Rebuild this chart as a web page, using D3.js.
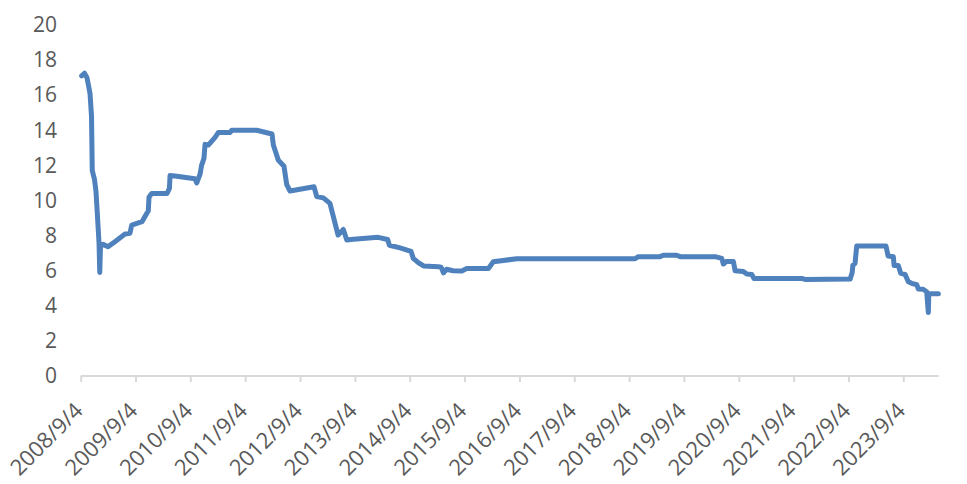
<!DOCTYPE html>
<html>
<head>
<meta charset="utf-8">
<script src="https://cdn.jsdelivr.net/npm/d3@7"></script>
<style>
  html, body { margin: 0; padding: 0; background: #ffffff; }
  svg { display: block; }
</style>
</head>
<body>
<svg id="chart" width="967" height="484"></svg>
<script>
// ---- data ----
const dates = [
  "2008-09-10","2008-09-29","2008-10-16","2008-11-05","2008-11-15","2008-11-20","2008-12-05","2008-12-15",
  "2009-01-04","2009-01-09","2009-01-14","2009-01-31","2009-03-05","2009-04-20","2009-06-26","2009-07-29",
  "2009-08-10","2009-10-17","2009-11-10","2009-11-28","2009-12-03","2009-12-21","2010-04-02","2010-04-18",
  "2010-04-22","2010-05-25","2010-10-05","2010-10-17","2010-11-08","2010-11-18","2010-12-04","2010-12-11",
  "2011-01-02","2011-02-16","2011-03-10","2011-05-27","2011-06-07","2011-11-20","2012-03-01","2012-03-10",
  "2012-04-12","2012-05-20","2012-06-07","2012-06-29","2012-12-06","2012-12-24","2013-02-06","2013-03-22",
  "2013-05-15","2013-06-19","2013-07-12","2013-08-25","2014-02-06","2014-04-10","2014-04-22","2014-07-02",
  "2014-09-13","2014-09-28","2014-10-31","2014-12-05","2015-03-14","2015-04-01","2015-04-17","2015-05-07",
  "2015-06-20","2015-08-17","2015-09-19","2016-02-10","2016-03-14","2016-08-17","2018-10-14","2018-11-05",
  "2019-03-29","2019-04-20","2019-07-18","2019-08-10","2020-03-30","2020-05-13","2020-05-24","2020-06-11",
  "2020-07-30","2020-08-10","2020-10-04","2020-10-27","2020-11-29","2020-12-14","2021-10-28","2021-11-19",
  "2022-09-15","2022-09-29","2022-10-03","2022-10-18","2022-10-29","2023-05-12","2023-05-26","2023-06-30",
  "2023-07-05","2023-08-02","2023-08-18","2023-09-16","2023-10-08","2023-10-30","2023-12-03","2023-12-13",
  "2024-01-14","2024-02-07","2024-02-18","2024-02-21","2024-04-25"
];
const values = [
  17.1, 17.25, 17.0, 16.1, 14.8, 11.7, 11.2, 10.5,
  7.6, 5.9, 7.45, 7.5, 7.37, 7.65, 8.09, 8.13,
  8.6, 8.79, 9.15, 9.4, 10.2, 10.4, 10.4, 10.69,
  11.42, 11.4, 11.24, 11.0, 11.5, 12.0, 12.4, 13.2,
  13.16, 13.6, 13.88, 13.88, 14.0, 14.0, 13.79, 13.16,
  12.3, 11.95, 10.9, 10.54, 10.78, 10.22, 10.15, 9.84,
  8.03, 8.35, 7.75, 7.79, 7.9, 7.78, 7.45, 7.3,
  7.1, 6.7, 6.46, 6.27, 6.23, 6.2, 5.88, 6.08,
  6.0, 5.98, 6.12, 6.13, 6.51, 6.68, 6.68, 6.8,
  6.8, 6.88, 6.88, 6.8, 6.8, 6.7, 6.38, 6.52,
  6.52, 6.0, 5.96, 5.81, 5.79, 5.56, 5.56, 5.5,
  5.52, 5.9, 6.3, 6.42, 7.41, 7.41, 6.84, 6.8,
  6.3, 6.3, 5.85, 5.79, 5.37, 5.28, 5.2, 4.96,
  4.94, 4.8, 3.62, 4.7, 4.68
];
const xTickLabels = ["2008/9/4","2009/9/4","2010/9/4","2011/9/4","2012/9/4","2013/9/4","2014/9/4","2015/9/4",
  "2016/9/4","2017/9/4","2018/9/4","2019/9/4","2020/9/4","2021/9/4","2022/9/4","2023/9/4"];
const yTicks = [0, 2, 4, 6, 8, 10, 12, 14, 16, 18, 20];
const axisStart = "2008-09-04";
const axisEnd = "2024-04-27";

// ---- drawing ----
const parse = d3.timeParse("%Y-%m-%d");
const parseTick = d3.timeParse("%Y/%m/%d");
const data = dates.map((d, i) => ({ date: parse(d), value: values[i] }));

const svg = d3.select("#chart");
const x = d3.scaleTime().domain([parse(axisStart), parse(axisEnd)]).range([80.7, 938.7]);
const y = d3.scaleLinear().domain([0, 20]).range([376, 25]);

const textColor = "#595959";
const font = "'Open Sans', 'Liberation Sans', sans-serif";

// y axis labels (no axis line)
const yAxis = d3.axisLeft(y).tickValues(yTicks).tickSize(0).tickPadding(0);
const gy = svg.append("g").attr("transform", "translate(57,0)").call(yAxis);
gy.select(".domain").remove();
gy.selectAll("text")
  .attr("fill", textColor)
  .attr("font-family", font)
  .attr("font-size", "21px");

// x axis
const tickDates = xTickLabels.map(s => parseTick(s));
const xAxis = d3.axisBottom(x).tickValues(tickDates).tickSize(6).tickFormat((d, i) => xTickLabels[i]);
const gx = svg.append("g").attr("transform", "translate(0,376)").call(xAxis);
gx.select(".domain").attr("stroke", "#d9d9d9").attr("stroke-width", 2)
  .attr("d", `M${x.range()[0]},0H${x.range()[1]}`);
gx.selectAll(".tick line").attr("stroke", "#d9d9d9").attr("stroke-width", 2);
gx.selectAll(".tick text")
  .attr("fill", textColor)
  .attr("font-family", font)
  .attr("font-size", "22px")
  .attr("text-anchor", "end")
  .attr("dy", null)
  .attr("y", 0)
  .attr("transform", "translate(3,36) rotate(-45)");

// line
const line = d3.line().x(d => x(d.date)).y(d => y(d.value));
svg.append("path")
  .datum(data)
  .attr("d", line)
  .attr("fill", "none")
  .attr("stroke", "#4F81BD")
  .attr("stroke-width", 5)
  .attr("stroke-linejoin", "round")
  .attr("stroke-linecap", "round");
</script>
</body>
</html>
